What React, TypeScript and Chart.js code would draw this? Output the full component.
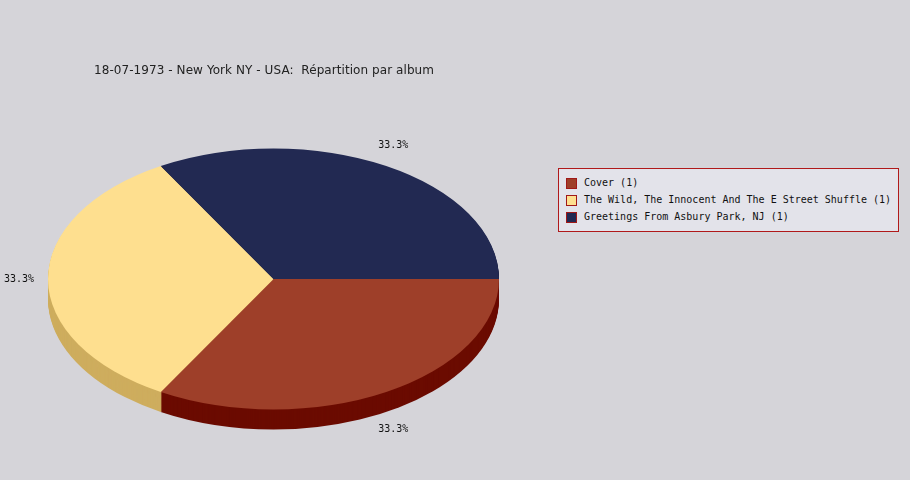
import React, { useEffect, useRef } from "react";
import { Chart, registerables } from "chart.js";

Chart.register(...registerables);

const titleText = "18-07-1973 - New York NY - USA:  Répartition par album";
const albums = [
  "Cover",
  "The Wild, The Innocent And The E Street Shuffle",
  "Greetings From Asbury Park, NJ",
];
const counts = [1, 1, 1];
const topColors = ["#9e3f29", "#fedf8f", "#222952"];
const sideColors = ["#6b0b00", "#cead5e", "#141a3a"];

const BG = "#d5d4d9";
const CENTER_Y = 279;
const SY = 130.5 / 225.5;
const DEPTH = 20;

const pie3d = {
  id: "pie3d",
  beforeDatasetsDraw(chart: any) {
    const ctx = chart.ctx;
    const arcs = chart.getDatasetMeta(0).data;
    if (!arcs.length) return;
    const cx = arcs[0].x;
    const cy = arcs[0].y;
    ctx.save();
    ctx.translate(cx, CENTER_Y);
    ctx.scale(1, SY);
    ctx.translate(-cx, -cy);
    for (let k = DEPTH; k >= 1; k--) {
      arcs.forEach((a: any, i: number) => {
        const oy = k / SY;
        ctx.beginPath();
        ctx.moveTo(a.x, a.y + oy);
        ctx.arc(a.x, a.y + oy, a.outerRadius, a.startAngle, a.endAngle);
        ctx.closePath();
        ctx.fillStyle = sideColors[i];
        ctx.fill();
      });
    }
  },
  afterDatasetsDraw(chart: any) {
    const ctx = chart.ctx;
    ctx.restore();
    const arcs = chart.getDatasetMeta(0).data;
    const total = counts.reduce((s, v) => s + v, 0);
    ctx.save();
    ctx.font = "10px 'DejaVu Sans Mono'";
    ctx.fillStyle = "#111";
    ctx.textBaseline = "middle";
    arcs.forEach((a: any, i: number) => {
      const mid = (a.startAngle + a.endAngle) / 2;
      const c = Math.cos(mid);
      const s = Math.sin(mid);
      const x = a.x + (a.outerRadius + 14) * c;
      const y = CENTER_Y + (a.outerRadius * SY + 24) * s + (s > 0.05 ? 17 : 0);
      ctx.textAlign = c < -0.7 ? "right" : c > 0.7 ? "left" : "center";
      const txt = ((counts[i] / total) * 100).toFixed(1) + "%";
      ctx.fillText(txt, x, y);
    });
    ctx.restore();
  },
};

export default function App() {
  const ref = useRef<HTMLCanvasElement>(null);
  useEffect(() => {
    document.body.style.margin = "0";
    const chart = new Chart(ref.current as HTMLCanvasElement, {
      type: "pie",
      data: {
        labels: albums,
        datasets: [
          {
            data: counts,
            backgroundColor: topColors,
            borderWidth: 0,
            clip: false as any,
          },
        ],
      },
      options: {
        responsive: false,
        animation: false,
        events: [],
        rotation: 90,
        layout: { padding: { left: 48, right: 411, top: 14, bottom: 15 } },
        plugins: {
          legend: { display: false },
          tooltip: { enabled: false },
          title: { display: false },
        },
      },
      plugins: [pie3d],
    });
    return () => chart.destroy();
  }, []);

  const rowCenters = [183, 200, 217];
  return (
    <div style={{ position: "absolute", left: 0, top: 0, width: 910, height: 480, background: BG, overflow: "hidden" }}>
      <canvas ref={ref} width={910} height={480} style={{ position: "absolute", left: 0, top: 0 }} />
      <div
        style={{
          position: "absolute",
          left: 94,
          top: 62,
          fontFamily: "'DejaVu Sans', sans-serif",
          fontSize: 12,
          letterSpacing: "0.07px",
          lineHeight: "16px",
          color: "#222",
          whiteSpace: "pre",
        }}
      >
        {titleText}
      </div>
      <div
        style={{
          position: "absolute",
          left: 558,
          top: 168,
          width: 341,
          height: 64,
          boxSizing: "border-box",
          border: "1px solid #b0191a",
          background: "#e3e3ea",
        }}
      >
        {albums.map((name, i) => (
          <div
            key={name}
            style={{
              position: "absolute",
              left: 7,
              top: rowCenters[i] - 169 - 7,
              height: 14,
              display: "flex",
              alignItems: "center",
              whiteSpace: "pre",
            }}
          >
            <div
              style={{
                width: 11,
                height: 11,
                boxSizing: "border-box",
                border: "1px solid #a01818",
                background: topColors[i],
              }}
            />
            <span
              style={{
                marginLeft: 7,
                fontFamily: "'DejaVu Sans Mono', monospace",
                fontSize: 10,
                color: "#111",
                lineHeight: "14px",
              }}
            >
              {name + " (" + counts[i] + ")"}
            </span>
          </div>
        ))}
      </div>
    </div>
  );
}
